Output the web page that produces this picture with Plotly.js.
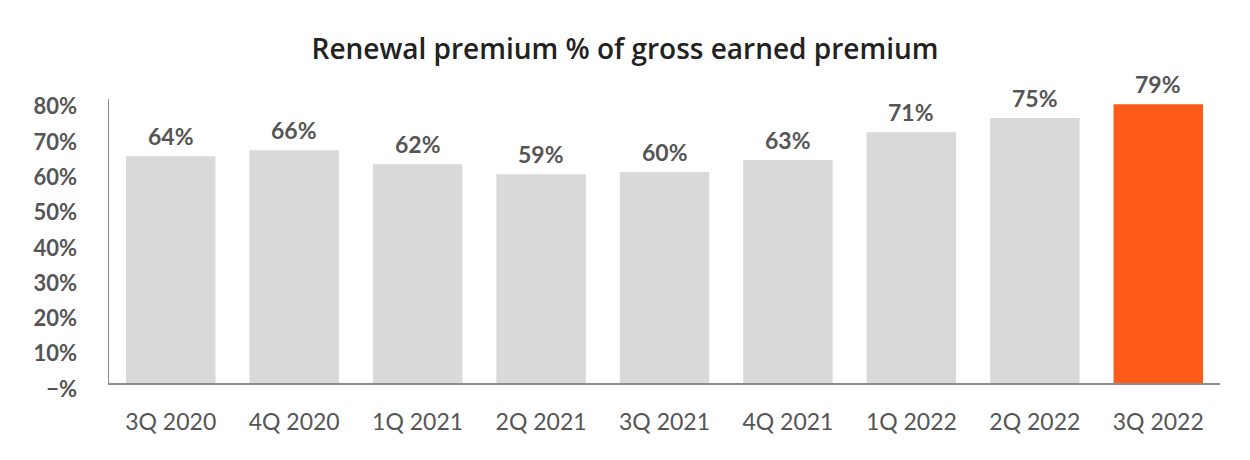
<!DOCTYPE html>
<html>
<head>
<meta charset="utf-8">
<script src="https://cdn.plot.ly/plotly-3.0.1.min.js"></script>
<style>html,body{margin:0;padding:0;background:#fff;}#chart{width:1250px;height:460px;}</style>
</head>
<body>
<div id="chart"></div>
<script>
const categories = ["3Q 2020","4Q 2020","1Q 2021","2Q 2021","3Q 2021","4Q 2021","1Q 2022","2Q 2022","3Q 2022"];
const values = [64.3, 66.0, 62.0, 59.2, 59.8, 63.2, 71.1, 75.1, 79.0];
const valueLabels = ["64%","66%","62%","59%","60%","63%","71%","75%","79%"];
const barColors = ["#d9d9d9","#d9d9d9","#d9d9d9","#d9d9d9","#d9d9d9","#d9d9d9","#d9d9d9","#d9d9d9","#fe5a1a"];
const tickValues = [0,10,20,30,40,50,60,70,80];
const tickLabels = ["\u2212%","10%","20%","30%","40%","50%","60%","70%","80%"];

const trace = {
  type: "bar",
  x: categories,
  y: values,
  marker: {color: barColors},
  hoverinfo: "skip"
};

const annotations = categories.map((c, i) => ({
  x: c, y: values[i], xref: "x", yref: "y",
  text: valueLabels[i], showarrow: false,
  yanchor: "bottom", yshift: 4,
  font: {family: "Lato", size: 23, color: "#555555", weight: 700}
}));

const layout = {
  width: 1250, height: 460,
  margin: {l: 109, r: 30, t: 99, b: 77},
  paper_bgcolor: "#ffffff", plot_bgcolor: "#ffffff",
  bargap: 0.275,
  showlegend: false,
  title: {
    text: "Renewal premium % of gross earned premium",
    x: 0.5, xref: "container", xanchor: "center",
    y: 50, yref: "container", yanchor: "middle",
    font: {family: "Open Sans", size: 28, color: "#222222", weight: 600}
  },
  xaxis: {
    type: "category",
    showline: true, linecolor: "#8c8c8c", linewidth: 1.5,
    showgrid: false, zeroline: false, ticks: "",
    ticklabelstandoff: 18,
    tickfont: {family: "Lato", size: 23, color: "#555555"}
  },
  yaxis: {
    range: [0, 80.5],
    tickmode: "array", tickvals: tickValues, ticktext: tickLabels,
    showline: true, linecolor: "#8c8c8c", linewidth: 1.5,
    showgrid: false, zeroline: false, ticks: "",
    ticklabelstandoff: 26, ticklabelshift: 6,
    tickfont: {family: "Lato", size: 22, color: "#555555", weight: 700}
  },
  annotations: annotations
};

Plotly.newPlot("chart", [trace], layout, {staticPlot: true, displayModeBar: false});
</script>
</body>
</html>
